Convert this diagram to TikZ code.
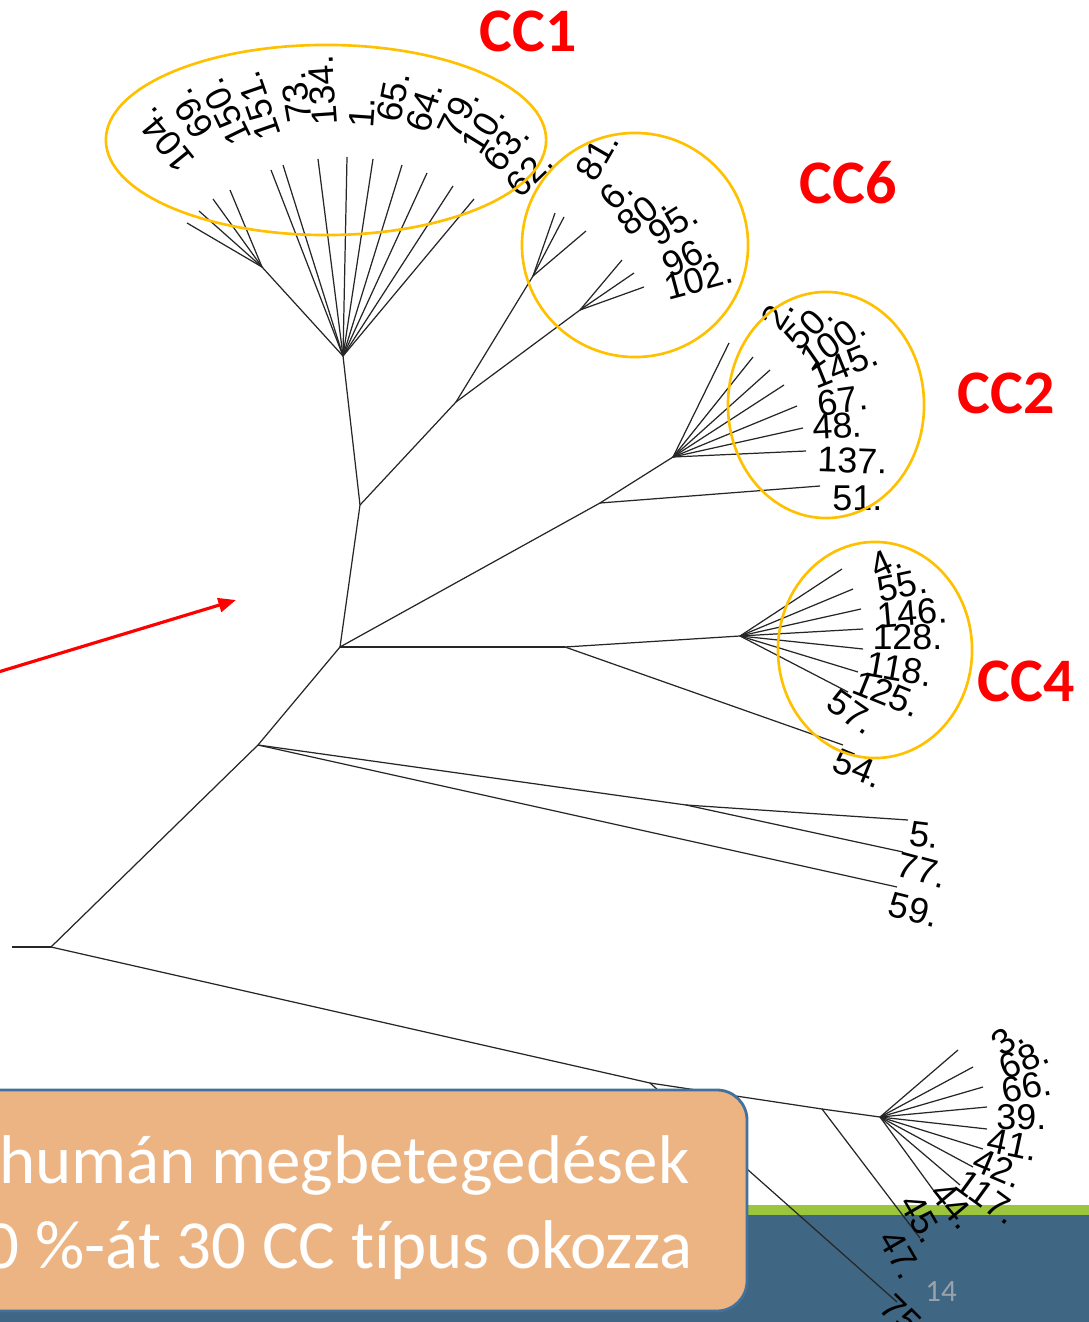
\documentclass[tikz,border=0pt]{standalone}
\usepackage{fontspec}
\setmainfont{Liberation Sans}
\newfontfamily\calibri[RawFeature={-liga}]{Carlito}
\usetikzlibrary{arrows.meta}

\definecolor{ringgold}{HTML}{FFC000}
\definecolor{tagred}{HTML}{FF0000}
\definecolor{notefill}{HTML}{ECB483}
\definecolor{noteline}{HTML}{41719C}
\definecolor{bandblue}{HTML}{3F6682}
\definecolor{bandgreen}{HTML}{9BC53D}
\definecolor{pagegrey}{HTML}{9AA3AA}

\begin{document}
\begin{tikzpicture}[x=0.01cm,y=-0.01cm,
  branch/.style={line width=0.35pt, black!85},
  leaflbl/.style={font=\fontsize{10.2}{11}\selectfont, inner sep=0pt, anchor=east},
  ccring/.style={draw=ringgold, line width=0.75pt},
  cctag/.style={font=\calibri\bfseries\fontsize{17.6}{18}\selectfont, text=tagred, inner sep=0pt},
  notetext/.style={font=\calibri\fontsize{19.6}{22}\selectfont, text=white, inner sep=0pt, anchor=base east},
]
\useasboundingbox (0,0) rectangle (1089,1322);

% slide footer band
\fill[bandgreen] (0,1205) rectangle (1089,1215);
\fill[bandblue] (0,1215) rectangle (1089,1322);
\node[font=\calibri\fontsize{8.8}{10}\selectfont, text=pagegrey] (pagenum) at (941,1292) {14};

% ---- inner tree nodes ----
\coordinate (r0) at (12,947);
\coordinate (r)  at (51,947);
\coordinate (a)  at (258,745);
\coordinate (b)  at (340,647);
\coordinate (c)  at (360,505);
\coordinate (h1) at (343,356);
\coordinate (s1) at (262,267);
\coordinate (d)  at (456,402);
\coordinate (h6a) at (533,276);
\coordinate (h6b) at (580,310);
\coordinate (e)  at (600,503);
\coordinate (h2) at (673,457);
\coordinate (f)  at (565,647);
\coordinate (h4) at (740,636);
\coordinate (g)  at (686,805);
\coordinate (B1) at (650,1083);
\coordinate (B2) at (822,1109);
\coordinate (hB) at (880,1117);

% ---- leaf ends ----
% CC1
\coordinate (p1) at (187,223);
\coordinate (p2) at (199,211);
\coordinate (p3) at (213,199);
\coordinate (p4) at (230,190);
\coordinate (q1) at (271,170);
\coordinate (q2) at (283,165);
\coordinate (q3) at (318,159);
\coordinate (q4) at (347,157);
\coordinate (q5) at (373,159);
\coordinate (q6) at (402,165);
\coordinate (q7) at (427,173);
\coordinate (q8) at (453,186);
\coordinate (q9) at (474,199);
% CC6
\coordinate (u1) at (555,213);
\coordinate (u2) at (564,217);
\coordinate (u3) at (586,231);
\coordinate (u4) at (622,260);
\coordinate (u5) at (634,273);
\coordinate (u6) at (644,287);
% CC2
\coordinate (v1) at (729,343);
\coordinate (v2) at (753,357);
\coordinate (v3) at (770,370);
\coordinate (v4) at (784,385);
\coordinate (v5) at (797,406);
\coordinate (v6) at (803,428);
\coordinate (v7) at (806,451);
\coordinate (v8) at (820,486);
% CC4
\coordinate (w1) at (842,569);
\coordinate (w2) at (853,589);
\coordinate (w3) at (861,609);
\coordinate (w4) at (863,629);
\coordinate (w5) at (863,649);
\coordinate (w6) at (858,672);
\coordinate (w7) at (848,692);
\coordinate (w8) at (843,745);
% middle group
\coordinate (m1) at (908,820);
\coordinate (m2) at (903,852);
\coordinate (m3) at (897,887);
% bottom group
\coordinate (z1) at (958,1050);
\coordinate (z2) at (973,1067);
\coordinate (z3) at (983,1087);
\coordinate (z4) at (987,1107);
\coordinate (z5) at (987,1129);
\coordinate (z6) at (983,1149);
\coordinate (z7) at (973,1167);
\coordinate (z8) at (960,1185);
\coordinate (z9) at (942,1202);
\coordinate (z10) at (920,1238);
\coordinate (z11) at (897,1302);

% ---- branches ----
\foreach \u/\v in {r0/r, r/a, a/b, b/c, c/h1, h1/s1, c/d, d/h6a, d/h6b,
    b/e, e/h2, e/v8, b/f, f/h4, f/w8, a/g, g/m1, g/m2, a/m3,
    r/B1, B1/B2, B1/z11, B2/hB, B2/z10,
    s1/p1, s1/p2, s1/p3, s1/p4,
    h1/q1, h1/q2, h1/q3, h1/q4, h1/q5, h1/q6, h1/q7, h1/q8, h1/q9,
    h6a/u1, h6a/u2, h6a/u3, h6b/u4, h6b/u5, h6b/u6,
    h2/v1, h2/v2, h2/v3, h2/v4, h2/v5, h2/v6, h2/v7,
    h4/w1, h4/w2, h4/w3, h4/w4, h4/w5, h4/w6, h4/w7,
    hB/z1, hB/z2, hB/z3, hB/z4, hB/z5, hB/z6, hB/z7, hB/z8, hB/z9}
  \draw[branch] (\u) -- (\v);

% ---- leaf labels ----
\foreach \name/\px/\py/\ang/\txt in {
    t104/143/112/129/104., t69/178/92/122/69., t150/210/80/116/150., t151/247/72/109/151.,
    t73/292/72/100/73., t134/320/55/94/134., t1/363/97/86/1., t65/398/72/79/65.,
    t64/432/83/72/64., t79/470/90/64/79., t10/497/107/58/10., t63/522/127/52/63., t62/548/155/44/62.,
    t81/610/134/60/81., t6/627/182/45/6., t80/662/197/38/80., t95/695/210/32/95.,
    t96/710/245/27/96., t102/733/270/15/102.,
    t2/786/300/58/2., t50/827/308/45/50., t100/862/322/35/100., t145/877/352/22/145.,
    t67/868/397/8/67., t48/863/425/3/48., t137/888/462/-2/137., t51/883/498/0/51.,
    t4/900/555/25/4., t55/927/580/12/55., t146/948/610/5/146., t128/943/637/0/128.,
    t118/933/675/-10/118., t125/920/707/-22/125., t57/873/727/-35/57., t54/882/778/-22/54.,
    t5/940/837/-7/5., t77/947/877/-15/77., t59/939/916/-14/59.,
    t3/1020/1030/35/3., t68/1048/1050/22/68., t66/1052/1082/11/66., t39/1047/1117/0/39.,
    t41/1038/1150/-12/41., t42/1022/1178/-23/42., t117/1015/1217/-36/117.,
    t44/970/1225/-50/44., t45/934/1241/-60/45., t47/913/1277/-60/47.}
  \node[leaflbl, rotate=\ang] (\name) at (\px,\py) {\txt};
\node[leaflbl, anchor=west, rotate=-45] (t75) at (886,1300) {75.};

% ---- clonal complex rings and tags ----
\draw[ccring] (326,140) ellipse [x radius=2.2cm, y radius=0.95cm];
\draw[ccring] (635,245) ellipse [x radius=1.13cm, y radius=1.12cm];
\draw[ccring] (826,405) ellipse [x radius=0.98cm, y radius=1.13cm];
\draw[ccring] (875,650) ellipse [x radius=0.97cm, y radius=1.08cm];

\node[cctag] (cc1) at (528,31) {CC1};
\node[cctag] (cc6) at (848,183) {CC6};
\node[cctag] (cc2) at (1006,393) {CC2};
\node[cctag] (cc4) at (1026,681) {CC4};

% ---- pointer arrow ----
\coordinate (arrowfrom) at (-5,673);
\coordinate (arrowto) at (236,600);
\draw[tagred, line width=0.9pt, -{Triangle[length=5pt,width=4pt]}] (arrowfrom) -- (arrowto);

% ---- callout box ----
\draw[noteline, line width=0.8pt, fill=notefill, rounded corners=0.3cm] (-60,1090) rectangle (747,1311);
\node[notetext] (line1) at (690,1183) {humán megbetegedések};
\node[notetext] (line2) at (693,1268) {0 \%-át 30 CC típus okozza};
\end{tikzpicture}
\end{document}
